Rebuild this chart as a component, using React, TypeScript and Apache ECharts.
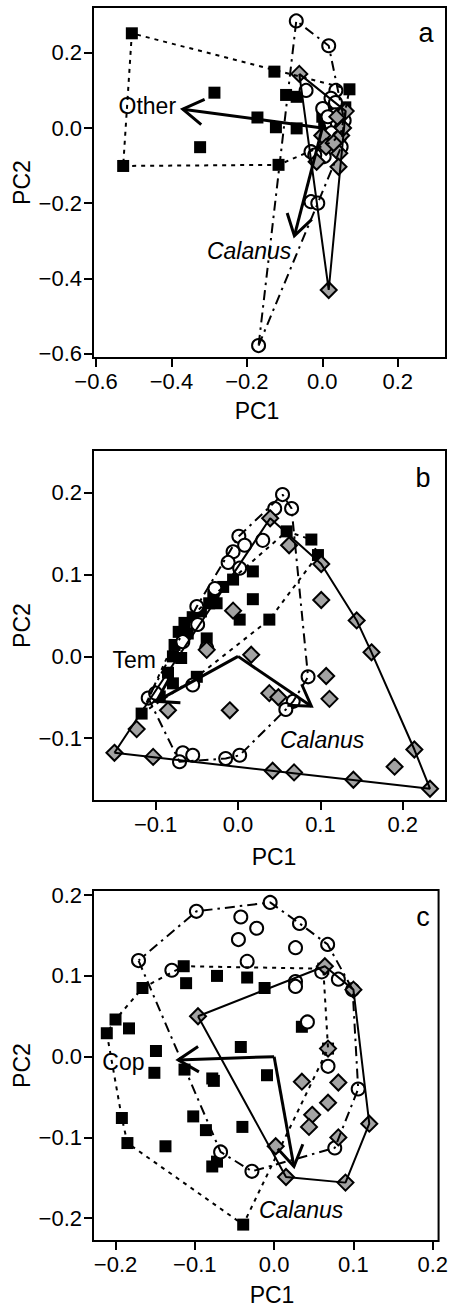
import React, { useEffect, useRef } from "react";
import * as echarts from "echarts";

// ---------- DATA ----------
// Panel a
const squaresA = [
  [-0.505, 0.252], [-0.127, 0.15], [-0.286, 0.094], [-0.096, 0.088], [-0.068, 0.083],
  [-0.172, 0.028], [-0.123, 0.002], [-0.068, -0.001], [-0.324, -0.051], [-0.528, -0.101],
  [-0.116, -0.098], [0.072, 0.103], [0.061, 0.055], [0.0, 0.03], [0.005, 0.012],
  [0.02, 0.0], [0.04, 0.025], [0.05, -0.01], [0.03, -0.035], [0.055, 0.035], [0.01, 0.045],
];
const circlesA = [
  [-0.069, 0.285], [0.017, 0.219], [-0.043, 0.1], [0.036, 0.1], [0.001, 0.052],
  [0.023, 0.079], [0.035, 0.068], [0.023, 0.011], [0.04, 0.012], [0.05, 0.0],
  [0.024, -0.013], [0.045, -0.025], [-0.03, -0.063], [0.005, -0.076], [-0.02, -0.072],
  [-0.03, -0.196], [-0.012, -0.2], [-0.169, -0.579], [0.058, 0.02], [0.05, -0.05],
  [0.035, 0.035], [0.015, 0.03],
];
const diamondsA = [
  [-0.061, 0.144], [0.017, -0.431], [0.045, -0.067], [0.043, -0.103], [0.0, -0.02],
  [0.01, -0.05], [0.05, -0.02], [0.055, 0.0], [0.04, 0.03], [0.062, 0.045],
  [-0.015, -0.09], [0.03, -0.04],
];
const arrowsA = [[0, 0, -0.37, 0.05], [0, 0, -0.074, -0.287]];
const labelsA = [
  { text: "Other", pos: [-0.464, 0.058], italic: false },
  { text: "Calanus", pos: [-0.194, -0.327], italic: true },
];
const xTicksA = [-0.6, -0.4, -0.2, 0.0, 0.2];
const yTicksA = [-0.6, -0.4, -0.2, 0.0, 0.2];

// Panel b
const squaresB = [
  [0.059, 0.153], [0.089, 0.143], [0.097, 0.124], [0.018, 0.104], [0.018, 0.07],
  [0.038, 0.045], [-0.03, 0.073], [-0.018, 0.085], [-0.006, 0.094], [-0.026, 0.065],
  [0.002, 0.045], [-0.065, 0.041], [-0.061, 0.028], [-0.038, 0.022], [-0.077, 0.014],
  [-0.079, 0.0], [-0.069, -0.002], [-0.05, -0.025], [-0.079, -0.033], [-0.095, -0.049],
  [-0.117, -0.07], [-0.072, 0.03], [-0.085, -0.02], [-0.045, 0.055], [-0.035, 0.065],
  [-0.055, 0.048],
];
const circlesB = [
  [0.054, 0.198], [0.0445, 0.181], [0.065, 0.181], [0.001, 0.147], [0.008, 0.136],
  [-0.006, 0.128], [0.03, 0.142], [-0.012, 0.115], [0.002, 0.108], [-0.028, 0.083],
  [-0.05, 0.061], [-0.049, 0.039], [-0.067, 0.018], [-0.038, 0.01], [-0.055, -0.035],
  [-0.109, -0.051], [0.085, -0.025], [0.067, -0.055], [0.058, -0.065], [0.002, -0.121],
  [-0.015, -0.125], [-0.067, -0.118], [-0.055, -0.121], [-0.071, -0.129], [-0.1, -0.045],
];
const diamondsB = [
  [0.039, 0.169], [0.062, 0.136], [0.101, 0.113], [0.101, 0.069], [-0.006, 0.056],
  [0.144, 0.044], [0.162, 0.005], [0.016, 0.002], [-0.038, 0.008], [0.107, -0.024],
  [0.111, -0.052], [0.038, -0.045], [0.049, -0.05], [-0.01, -0.066], [-0.085, -0.066],
  [-0.123, -0.089], [-0.15, -0.118], [-0.103, -0.123], [0.042, -0.14], [0.068, -0.142],
  [0.14, -0.151], [0.19, -0.135], [0.214, -0.114], [0.233, -0.162],
];
const arrowsB = [[0, 0, -0.099, -0.055], [0, 0, 0.089, -0.061]];
const labelsB = [
  { text: "Tem", pos: [-0.126, -0.004], italic: false },
  { text: "Calanus", pos: [0.102, -0.102], italic: true },
];
const xTicksB = [-0.1, 0.0, 0.1, 0.2];
const yTicksB = [-0.1, 0.0, 0.1, 0.2];

// Panel c
const squaresC = [
  [-0.114, 0.112], [-0.111, 0.091], [-0.072, 0.1], [-0.034, 0.098], [-0.012, 0.085],
  [-0.166, 0.085], [-0.2, 0.046], [-0.183, 0.035], [-0.211, 0.029], [0.035, 0.037],
  [-0.149, 0.007], [-0.151, -0.02], [-0.113, -0.016], [-0.078, -0.027], [-0.076, -0.03],
  [-0.042, 0.012], [-0.009, -0.023], [-0.192, -0.076], [-0.102, -0.074], [-0.086, -0.091],
  [-0.04, -0.087], [-0.185, -0.107], [-0.137, -0.111], [-0.072, -0.13], [-0.078, -0.136],
  [-0.039, -0.208], [0.062, 0.109], [0.068, 0.01],
];
const circlesC = [
  [-0.171, 0.119], [-0.098, 0.18], [-0.005, 0.191], [0.032, 0.165], [0.0675, 0.139],
  [-0.042, 0.173], [-0.022, 0.159], [-0.045, 0.145], [0.027, 0.135], [-0.034, 0.118],
  [-0.129, 0.107], [0.027, 0.093], [0.027, 0.087], [0.06, 0.105], [0.081, 0.096],
  [0.099, 0.083], [0.042, 0.043], [0.068, -0.012], [0.106, -0.04], [0.0765, -0.113],
  [-0.028, -0.142], [-0.0675, -0.118],
];
const diamondsC = [
  [-0.096, 0.05], [0.064, 0.112], [0.1, 0.083], [0.068, 0.01], [0.035, -0.031],
  [0.081, -0.032], [0.068, -0.057], [0.048, -0.072], [0.044, -0.087], [0.12, -0.083],
  [0.081, -0.1], [0.002, -0.111], [0.015, -0.149], [0.09, -0.156],
];
const arrowsC = [[0, 0, -0.121, -0.004], [0, 0, 0.025, -0.136]];
const labelsC = [
  { text: "Cop", pos: [-0.19, -0.006], italic: false },
  { text: "Calanus", pos: [0.034, -0.19], italic: true },
];
const xTicksC = [-0.2, -0.1, 0.0, 0.1, 0.2];
const yTicksC = [-0.2, -0.1, 0.0, 0.1, 0.2];

const panelLetters = ["a", "b", "c"];

// ---------- LAYOUT / STYLE ----------
const FONT = "'Liberation Sans', Arial, Helvetica, sans-serif";
const GREY = "#a3a3a3";

const panels = [
  { sq: squaresA, ci: circlesA, di: diamondsA, arrows: arrowsA, labels: labelsA, xt: xTicksA, yt: yTicksA,
    grid: { left: 93, top: 7, width: 353, height: 351 }, xr: [-0.608, 0.328], yr: [-0.612, 0.322],
    pc1: [257, 411], letter: [426, 33] },
  { sq: squaresB, ci: circlesB, di: diamondsB, arrows: arrowsB, labels: labelsB, xt: xTicksB, yt: yTicksB,
    grid: { left: 93, top: 450, width: 353, height: 351 }, xr: [-0.176, 0.2524], yr: [-0.177, 0.2526],
    pc1: [274, 857], letter: [423, 478] },
  { sq: squaresC, ci: circlesC, di: diamondsC, arrows: arrowsC, labels: labelsC, xt: xTicksC, yt: yTicksC,
    grid: { left: 93, top: 890, width: 353, height: 351 }, xr: [-0.2284, 0.2074], yr: [-0.2283, 0.2064],
    pc1: [272, 1295], letter: [423, 917] },
];

function convexHull(pts: number[][]): number[][] {
  const p = pts.slice().sort((a, b) => (a[0] - b[0]) || (a[1] - b[1]));
  const cross = (o: number[], a: number[], b: number[]) =>
    (a[0] - o[0]) * (b[1] - o[1]) - (a[1] - o[1]) * (b[0] - o[0]);
  const lower: number[][] = [];
  for (const q of p) {
    while (lower.length >= 2 && cross(lower[lower.length - 2], lower[lower.length - 1], q) <= 0) lower.pop();
    lower.push(q);
  }
  const upper: number[][] = [];
  for (let i = p.length - 1; i >= 0; i--) {
    const q = p[i];
    while (upper.length >= 2 && cross(upper[upper.length - 2], upper[upper.length - 1], q) <= 0) upper.pop();
    upper.push(q);
  }
  upper.pop();
  lower.pop();
  const h = lower.concat(upper);
  h.push(h[0]);
  return h;
}

const fmt = (v: number) => (v < -1e-9 ? "\u2212" : "") + Math.abs(v).toFixed(1);

function renderArrow(_params: any, api: any) {
  const s = api.coord([api.value(0), api.value(1)]);
  const e = api.coord([api.value(2), api.value(3)]);
  const ang = Math.atan2(e[1] - s[1], e[0] - s[0]);
  const L = 24;
  const A = (32 * Math.PI) / 180;
  const h1 = [e[0] - L * Math.cos(ang - A), e[1] - L * Math.sin(ang - A)];
  const h2 = [e[0] - L * Math.cos(ang + A), e[1] - L * Math.sin(ang + A)];
  return {
    type: "group",
    children: [
      { type: "line", shape: { x1: s[0], y1: s[1], x2: e[0], y2: e[1] }, style: { stroke: "#000", lineWidth: 3 } },
      { type: "polyline", shape: { points: [h1, e, h2] }, style: { stroke: "#000", lineWidth: 3, fill: null } },
    ],
  };
}

function makeLabelRenderer(labels: { text: string; pos: number[]; italic: boolean }[]) {
  return (params: any, api: any) => {
    const l = labels[params.dataIndex];
    const c = api.coord([api.value(0), api.value(1)]);
    return {
      type: "text",
      x: c[0],
      y: c[1],
      style: {
        text: l.text,
        fill: "#000",
        font: `${l.italic ? "italic " : ""}23px ${FONT}`,
        textAlign: "center",
        textVerticalAlign: "middle",
        align: "center",
        verticalAlign: "middle",
      },
    };
  };
}

function buildOption() {
  const grid: any[] = [];
  const xAxis: any[] = [];
  const yAxis: any[] = [];
  const series: any[] = [];
  const graphic: any[] = [];

  panels.forEach((p, i) => {
    grid.push({ ...p.grid, show: true, borderColor: "#000", borderWidth: 2, backgroundColor: "transparent" });
    const tickStyle = { show: true, inside: false, length: 9, lineStyle: { color: "#000", width: 2 } };
    xAxis.push({
      gridIndex: i, type: "value", min: p.xr[0], max: p.xr[1],
      axisLine: { show: false, onZero: false }, splitLine: { show: false },
      axisTick: { ...tickStyle, customValues: p.xt },
      axisLabel: { customValues: p.xt, formatter: fmt, fontSize: 22, color: "#000", fontFamily: FONT, margin: 12 },
    });
    yAxis.push({
      gridIndex: i, type: "value", min: p.yr[0], max: p.yr[1],
      axisLine: { show: false, onZero: false }, splitLine: { show: false },
      axisTick: { ...tickStyle, customValues: p.yt },
      axisLabel: { customValues: p.yt, formatter: fmt, fontSize: 22, color: "#000", fontFamily: FONT, margin: 11 },
    });

    const common = { xAxisIndex: i, yAxisIndex: i, silent: true };
    series.push({
      ...common, type: "scatter", z: 2, data: p.sq, symbol: "rect", symbolSize: 12,
      itemStyle: { color: "#000", opacity: 1 },
    });
    series.push({
      ...common, type: "scatter", z: 2, data: p.ci, symbol: "circle", symbolSize: 13,
      itemStyle: { color: "#fff", borderColor: "#000", borderWidth: 2, opacity: 1 },
    });
    series.push({
      ...common, type: "scatter", z: 2, data: p.di, symbol: "diamond", symbolSize: [16, 16],
      itemStyle: { color: GREY, borderColor: "#000", borderWidth: 2, opacity: 1 },
    });
    // hulls
    series.push({
      ...common, type: "line", z: 3, data: convexHull(p.sq), symbol: "none",
      lineStyle: { color: "#000", width: 2, type: [4, 5] },
    });
    series.push({
      ...common, type: "line", z: 3, data: convexHull(p.ci), symbol: "none",
      lineStyle: { color: "#000", width: 2, type: [10, 5, 2.5, 5] },
    });
    series.push({
      ...common, type: "line", z: 3, data: convexHull(p.di), symbol: "none",
      lineStyle: { color: "#000", width: 2, type: "solid" },
    });
    // loading arrows
    series.push({
      ...common, type: "custom", z: 4, renderItem: renderArrow, data: p.arrows,
      encode: { x: [0, 2], y: [1, 3] }, clip: false,
    });
    // arrow labels
    series.push({
      ...common, type: "custom", z: 5, renderItem: makeLabelRenderer(p.labels),
      data: p.labels.map((l) => l.pos), encode: { x: 0, y: 1 }, clip: false,
    });

    const cy = p.grid.top + p.grid.height / 2;
    graphic.push({
      type: "text", x: 22, y: cy, rotation: Math.PI / 2,
      style: { text: "PC2", fontSize: 23, fontFamily: FONT, fill: "#000",
        textAlign: "center", textVerticalAlign: "middle", align: "center", verticalAlign: "middle" },
    });
    graphic.push({
      type: "text", x: p.pc1[0], y: p.pc1[1],
      style: { text: "PC1", fontSize: 23, fontFamily: FONT, fill: "#000",
        textAlign: "center", textVerticalAlign: "middle", align: "center", verticalAlign: "middle" },
    });
    graphic.push({
      type: "text", x: p.letter[0], y: p.letter[1],
      style: { text: panelLetters[i], fontSize: 27, fontFamily: FONT, fill: "#000",
        textAlign: "center", textVerticalAlign: "middle", align: "center", verticalAlign: "middle" },
    });
  });

  return { animation: false, backgroundColor: "#fff", grid, xAxis, yAxis, series, graphic };
}

export default function App() {
  const ref = useRef<HTMLDivElement>(null);
  useEffect(() => {
    document.body.style.margin = "0";
    if (!ref.current) return;
    const chart = echarts.init(ref.current, undefined, { renderer: "svg" });
    chart.setOption(buildOption() as any);
    return () => chart.dispose();
  }, []);
  return <div ref={ref} style={{ width: 451, height: 1308, background: "#fff" }} />;
}
